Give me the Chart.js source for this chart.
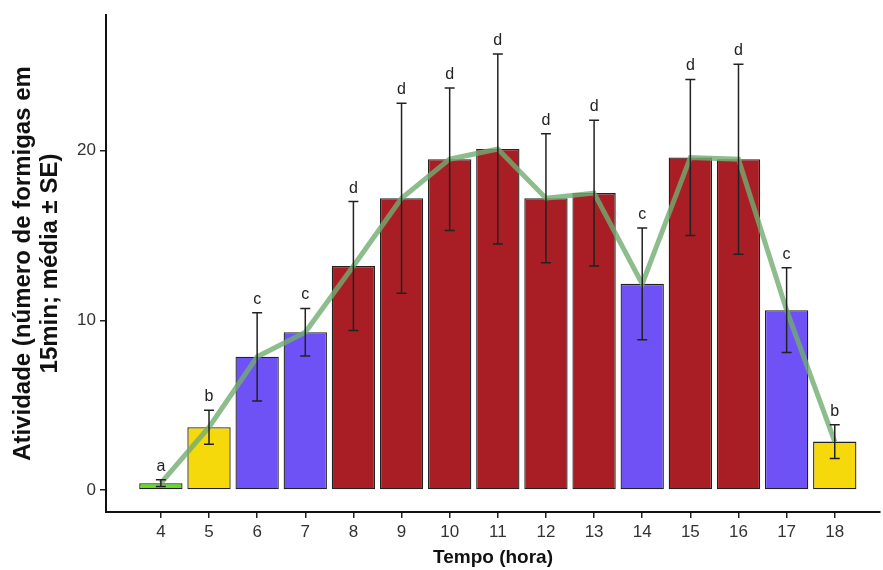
<!DOCTYPE html>
<html>
<head>
<meta charset="utf-8">
<script src="https://cdn.jsdelivr.net/npm/chart.js@4.4.0/dist/chart.umd.min.js"></script>
<style>
  html, body { margin: 0; padding: 0; background: #fff; }
</style>
</head>
<body>
<canvas id="myChart" width="883" height="570"></canvas>
<script>
// dados
var horas  = [4, 5, 6, 7, 8, 9, 10, 11, 12, 13, 14, 15, 16, 17, 18];
var medias = [0.4, 3.7, 7.85, 9.3, 13.2, 17.2, 19.5, 20.1, 17.2, 17.5, 12.15, 19.6, 19.5, 10.6, 2.85];
var erros  = [0.2, 1.0, 2.6, 1.4, 3.8, 5.6, 4.2, 5.6, 3.8, 4.3, 3.3, 4.6, 5.6, 2.5, 1.0];
var letras = ["a", "b", "c", "c", "d", "d", "d", "d", "d", "d", "c", "d", "d", "c", "b"];
var yTicks = [0, 10, 20];

var corLetra = { a: "#62df1c", b: "#f5d90a", c: "#6f52f5", d: "#a81e24" };
var barColors = letras.map(function (l) { return corLetra[l]; });

var pontos = horas.map(function (h, i) { return { x: h, y: medias[i] }; });

// barras de erro + letras
var errorBars = {
  id: "errorBars",
  afterDatasetsDraw: function (chart) {
    var ctx = chart.ctx;
    var xs = chart.scales.x, ys = chart.scales.y;
    ctx.save();
    ctx.strokeStyle = "#222";
    ctx.lineWidth = 1.5;
    ctx.fillStyle = "#222";
    ctx.font = "16px 'Liberation Sans', Arial, sans-serif";
    ctx.textAlign = "center";
    ctx.textBaseline = "alphabetic";
    for (var i = 0; i < horas.length; i++) {
      var x = xs.getPixelForValue(horas[i]);
      var yt = ys.getPixelForValue(medias[i] + erros[i]);
      var yb = ys.getPixelForValue(Math.max(0, medias[i] - erros[i]));
      ctx.beginPath();
      ctx.moveTo(x, yt); ctx.lineTo(x, yb);
      ctx.moveTo(x - 5, yt); ctx.lineTo(x + 5, yt);
      ctx.moveTo(x - 5, yb); ctx.lineTo(x + 5, yb);
      ctx.stroke();
      ctx.fillText(letras[i], x, yt - 9);
    }
    ctx.restore();
  }
};

new Chart("myChart", {
  type: "bar",
  data: {
    datasets: [{
      type: "line",
      data: pontos,
      borderColor: "rgba(112,172,112,0.8)",
      borderWidth: 5,
      pointRadius: 0,
      tension: 0,
      order: 0
    }, {
      type: "bar",
      data: pontos,
      backgroundColor: barColors,
      borderColor: "#222",
      borderWidth: 1.3,
      borderSkipped: false,
      barPercentage: 0.9,
      categoryPercentage: 1,
      order: 1
    }]
  },
  plugins: [errorBars],
  options: {
    responsive: false,
    animation: false,
    layout: { padding: { top: 15, right: 3, left: 0, bottom: 0 } },
    plugins: { legend: { display: false }, tooltip: { enabled: false } },
    scales: {
      x: {
        type: "linear",
        min: 2.86,
        max: 18.94,
        offset: false,
        afterBuildTicks: function (s) { s.ticks = horas.map(function (h) { return { value: h }; }); },
        afterFit: function (s) { s.height = 58; },
        grid: { offset: false, drawOnChartArea: false, drawTicks: true, tickLength: 6, color: "#222", lineWidth: 1.5 },
        border: { display: true, color: "#111", width: 2 },
        ticks: { color: "#333", padding: 4, font: { size: 17, family: "'Liberation Sans', Arial, sans-serif" } },
        title: {
          display: true,
          text: "Tempo (hora)",
          color: "#111",
          padding: { top: 0, bottom: 1 },
          font: { size: 19, weight: "bold", family: "'Liberation Sans', Arial, sans-serif" }
        }
      },
      y: {
        min: -1.3,
        max: 28,
        afterBuildTicks: function (s) { s.ticks = yTicks.map(function (v) { return { value: v }; }); },
        afterFit: function (s) { s.width = 106; },
        grid: { drawOnChartArea: false, drawTicks: true, tickLength: 6, color: "#222", lineWidth: 1.5 },
        border: { display: true, color: "#111", width: 2 },
        ticks: { color: "#333", padding: 4, font: { size: 17, family: "'Liberation Sans', Arial, sans-serif" } },
        title: {
          display: true,
          text: ["Atividade (número de formigas em", "15min; média ± SE)"],
          color: "#111",
          padding: { top: 10, bottom: 0 },
          font: { size: 24, weight: "bold", lineHeight: 1.13, family: "'Liberation Sans', Arial, sans-serif" }
        }
      }
    }
  }
});
</script>
</body>
</html>
